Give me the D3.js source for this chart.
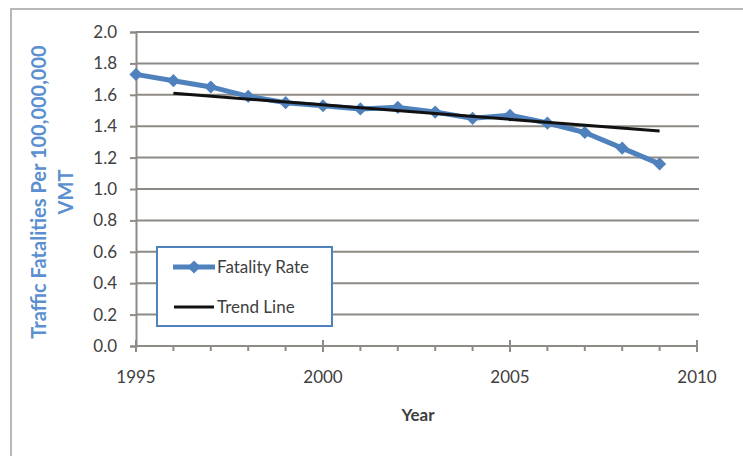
<!DOCTYPE html>
<html>
<head>
<meta charset="utf-8">
<script src="https://cdn.jsdelivr.net/npm/d3@7"></script>
<style>
  html, body { margin: 0; padding: 0; background: #fff; }
  svg { display: block; font-family: Lato, "Open Sans", sans-serif; }
</style>
</head>
<body>
<svg id="chart" width="743" height="456"></svg>
<script>
// Traffic fatality rate per 100 million vehicle miles travelled
const years = [1995, 1996, 1997, 1998, 1999, 2000, 2001, 2002, 2003, 2004, 2005, 2006, 2007, 2008, 2009];
const fatalityRate = [1.73, 1.69, 1.65, 1.59, 1.55, 1.53, 1.51, 1.52, 1.49, 1.45, 1.47, 1.42, 1.36, 1.26, 1.16];
const trendYears = [1996, 2009];
const trendValues = [1.61, 1.37];
const yTicks = [0, 0.2, 0.4, 0.6, 0.8, 1.0, 1.2, 1.4, 1.6, 1.8, 2.0];
const xMajorTicks = [1995, 2000, 2005, 2010];
const xMinorTicks = d3.range(1995, 2011);
const seriesNames = ["Fatality Rate", "Trend Line"];

const svg = d3.select("#chart");
const blue = "#4f81bd";
const gridColor = "#8e8a86";
const textColor = "#404040";

// outer chart frame
svg.append("rect").attr("x", 11).attr("y", 9).attr("width", 760).attr("height", 470)
  .attr("fill", "#fff").attr("stroke", "#b8b8b8").attr("stroke-width", 2);

const x = d3.scaleLinear().domain([1995, 2010]).range([136, 697]);
const y = d3.scaleLinear().domain([0, 2]).range([346, 32]);

// horizontal gridlines
svg.append("g").selectAll("line").data(yTicks.filter(d => d > 0)).join("line")
  .attr("x1", x(1995)).attr("x2", 699)
  .attr("y1", d => y(d)).attr("y2", d => y(d))
  .attr("stroke", gridColor).attr("stroke-width", 2);

// y axis
const yAxis = d3.axisLeft(y).tickValues(yTicks).tickFormat(d3.format(".1f")).tickSize(6).tickPadding(13);
const gy = svg.append("g").attr("transform", `translate(${x(1995)},0)`).call(yAxis);
gy.select(".domain").attr("stroke", gridColor).attr("stroke-width", 2);
gy.selectAll(".tick line").attr("stroke", gridColor).attr("stroke-width", 2);
gy.selectAll(".tick text").attr("fill", textColor).style("font-size", "17px")
  .style("font-family", "Lato, sans-serif");

// x axis: minor ticks below, major ticks across the axis line
const gx = svg.append("g").attr("transform", `translate(0,${y(0)})`);
gx.append("line").attr("x1", x(1995)).attr("x2", x(2010)).attr("stroke", gridColor).attr("stroke-width", 2);
gx.selectAll("line.minor").data(xMinorTicks).join("line").attr("class", "minor")
  .attr("x1", d => x(d)).attr("x2", d => x(d)).attr("y1", 0).attr("y2", 5)
  .attr("stroke", gridColor).attr("stroke-width", 2);
gx.selectAll("line.major").data(xMajorTicks).join("line").attr("class", "major")
  .attr("x1", d => x(d)).attr("x2", d => x(d)).attr("y1", -6).attr("y2", 6)
  .attr("stroke", gridColor).attr("stroke-width", 2);
gx.selectAll("text").data(xMajorTicks).join("text")
  .attr("x", d => x(d)).attr("y", 37).attr("text-anchor", "middle")
  .attr("fill", textColor).style("font-size", "17px").text(d => d);

// axis titles
svg.append("text").attr("x", 418).attr("y", 421).attr("text-anchor", "middle")
  .attr("fill", textColor).style("font-size", "17px").style("font-weight", "bold").text("Year");
const yTitle = svg.append("text").attr("transform", "translate(0,192) rotate(-90)")
  .attr("text-anchor", "middle").attr("fill", "#5b8fcf")
  .style("font-size", "20px").style("font-weight", "bold");
yTitle.append("tspan").attr("x", 0).attr("y", 46).text("Traffic Fatalities Per 100,000,000");
yTitle.append("tspan").attr("x", 0).attr("y", 73).text("VMT");

// data series
const line = d3.line().x(d => x(d[0])).y(d => y(d[1]));
const pts = years.map((yr, i) => [yr, fatalityRate[i]]);
svg.append("path").datum(pts).attr("d", line).attr("fill", "none")
  .attr("stroke", blue).attr("stroke-width", 5).attr("stroke-linejoin", "round");
const diamond = d3.symbol().type(d3.symbolDiamond2).size(110);
svg.append("g").selectAll("path").data(pts).join("path")
  .attr("transform", d => `translate(${x(d[0])},${y(d[1])})`)
  .attr("d", diamond).attr("fill", blue);

// linear trend
const trendPts = trendYears.map((yr, i) => [yr, trendValues[i]]);
svg.append("path").datum(trendPts).attr("d", line).attr("fill", "none")
  .attr("stroke", "#111").attr("stroke-width", 3);

// legend
const lg = svg.append("g");
lg.append("rect").attr("x", 157).attr("y", 247).attr("width", 175).attr("height", 79)
  .attr("fill", "#fff").attr("stroke", blue).attr("stroke-width", 2);
lg.append("line").attr("x1", 173).attr("x2", 215).attr("y1", 267).attr("y2", 267)
  .attr("stroke", blue).attr("stroke-width", 5);
lg.append("path").attr("transform", "translate(194,267)").attr("d", diamond).attr("fill", blue);
lg.append("line").attr("x1", 174).attr("x2", 214).attr("y1", 307).attr("y2", 307)
  .attr("stroke", "#111").attr("stroke-width", 3);
lg.selectAll("text").data(seriesNames).join("text")
  .attr("x", 217).attr("y", (d, i) => 273 + i * 40)
  .attr("fill", textColor).style("font-size", "17px").text(d => d);
</script>
</body>
</html>
